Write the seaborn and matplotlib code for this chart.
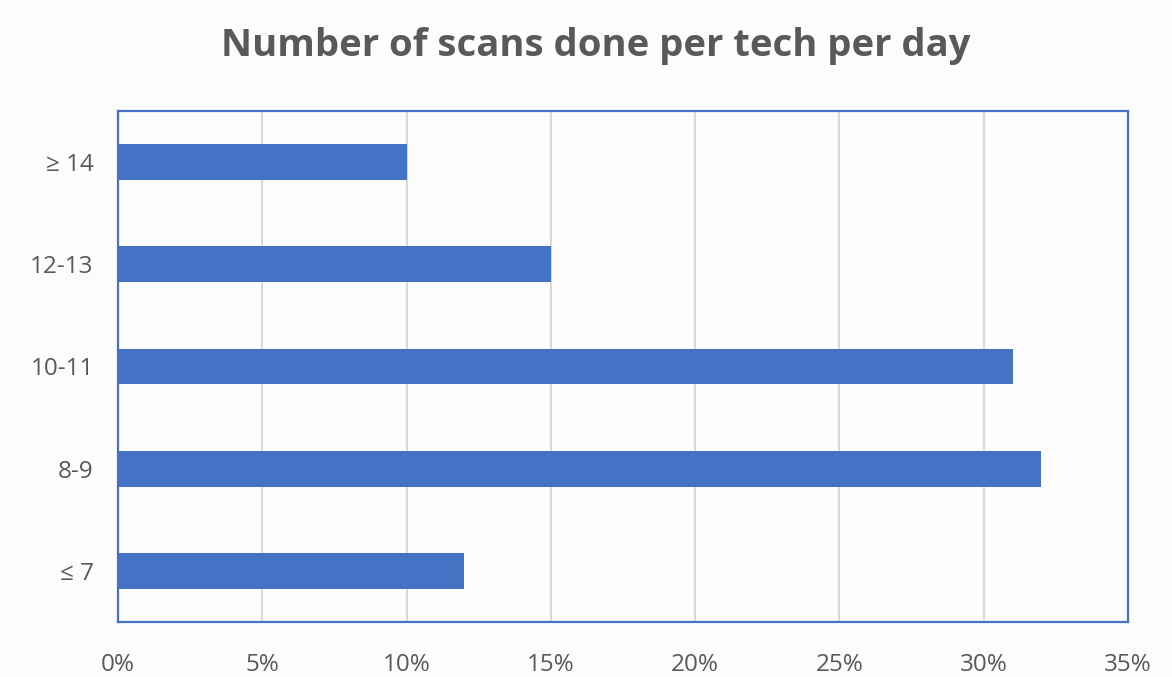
import numpy as np
import pandas as pd
import matplotlib
matplotlib.use("Agg")
import matplotlib.pyplot as plt
import seaborn as sns
from matplotlib.ticker import PercentFormatter

# ---------- data ----------
categories = ["\u2265 14", "12-13", "10-11", "8-9", "\u2264 7"]
shares = [10, 15, 31, 32, 12]

df = pd.DataFrame({"scans": categories, "share": shares})

# ---------- style ----------
sns.set_theme(style="white")
plt.rcParams["font.family"] = ["Open Sans", "DejaVu Sans"]
grey = "#595959"
blue = "#4472C4"

fig = plt.figure(figsize=(11.72, 6.77), dpi=100, facecolor="#FCFCFC")
ax = fig.add_axes([118 / 1172, 1 - 622 / 677, (1128 - 118) / 1172, (622 - 111) / 677])
ax.set_facecolor("#FCFCFC")

sns.barplot(data=df, y="scans", x="share", orient="h", color=blue,
            saturation=1, width=0.35, linewidth=0, ax=ax, zorder=3)

ax.set_xlim(0, 35)
ax.set_xticks(np.arange(0, 36, 5))
ax.xaxis.set_major_formatter(PercentFormatter(decimals=0))
ax.grid(axis="x", color="#D9D9D9", linewidth=1.5, zorder=0)
ax.set_axisbelow(True)
ax.set_xlabel("")
ax.set_ylabel("")
ax.tick_params(axis="both", length=0, labelsize=17.5, labelcolor=grey)
ax.tick_params(axis="x", pad=22)
ax.tick_params(axis="y", pad=17.5)

for s in ax.spines.values():
    s.set_visible(True)
    s.set_color(blue)
    s.set_linewidth(1.6)

fig.suptitle("Number of scans done per tech per day", x=596 / 1172, y=1 - 46 / 677,
             va="center", fontsize=27.5, fontweight="bold", color=grey)

fig.savefig("out.png", dpi=100, facecolor=fig.get_facecolor())
